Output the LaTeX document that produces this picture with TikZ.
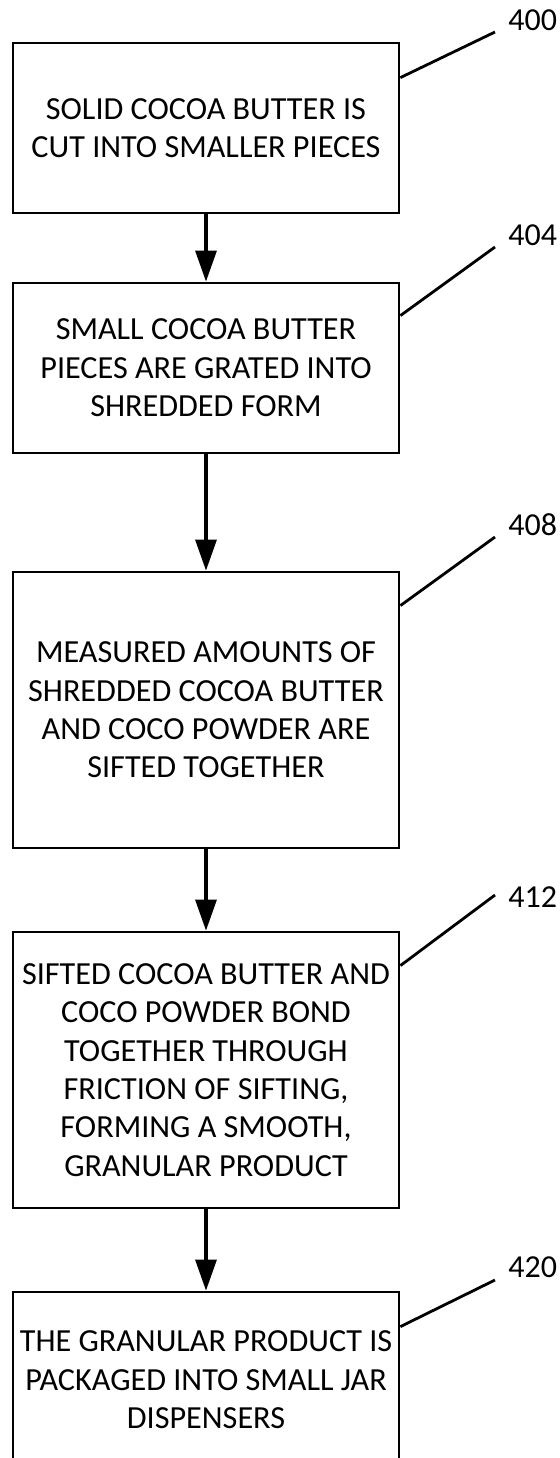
\documentclass[tikz,border=0pt]{standalone}
\usepackage{fontspec}
\setmainfont{Carlito}
\usetikzlibrary{arrows.meta}

\begin{document}
\begin{tikzpicture}[x=0.5pt,y=-0.5pt,>=Triangle,
  stepbox/.style={rectangle,draw=black,line width=1.4pt,minimum width=193pt,inner sep=0pt,align=center,font=\fontsize{16.1pt}{19.2pt}\selectfont},
  refnum/.style={anchor=base west,inner sep=0pt,font=\fontsize{16pt}{19pt}\selectfont},
  leader/.style={draw=black,line width=1.4pt},
  flow/.style={-{Triangle[length=15.5pt,width=10.5pt]},draw=black,line width=1.6pt}]
\path[use as bounding box,clip] (0,0) rectangle (559,1458);
% process steps
\node[stepbox,minimum height=85pt] (b400) at (206,128) {SOLID COCOA BUTTER IS\\CUT INTO SMALLER PIECES};
\node[stepbox,minimum height=85pt] (b404) at (206,368) {SMALL COCOA BUTTER\\PIECES ARE GRATED INTO\\SHREDDED FORM};
\node[stepbox,minimum height=138pt] (b408) at (206,710) {MEASURED AMOUNTS OF\\SHREDDED COCOA BUTTER\\AND COCO POWDER ARE\\SIFTED TOGETHER};
\node[stepbox,minimum height=138pt] (b412) at (206,1070) {SIFTED COCOA BUTTER AND\\COCO POWDER BOND\\TOGETHER THROUGH\\FRICTION OF SIFTING,\\FORMING A SMOOTH,\\GRANULAR PRODUCT};
\node[stepbox,minimum height=88pt] (b420) at (206,1380) {THE GRANULAR PRODUCT IS\\PACKAGED INTO SMALL JAR\\DISPENSERS};
% reference numerals
\coordinate (c400) at (495,32);
\coordinate (c404) at (495,247);
\coordinate (c408) at (495,537);
\coordinate (c412) at (495,895);
\coordinate (c420) at (495,1280);
\node[refnum] (n400) at (508,30) {400};
\node[refnum] (n404) at (508,245) {404};
\node[refnum] (n408) at (508,535) {408};
\node[refnum] (n412) at (508,907) {412};
\node[refnum] (n420) at (508,1277) {420};
\draw[leader] ([yshift=-18pt]b400.north east) -- (c400);
\draw[leader] ([yshift=-17pt]b404.north east) -- (c404);
\draw[leader] ([yshift=-17.5pt]b408.north east) -- (c408);
\draw[leader] ([yshift=-17.5pt]b412.north east) -- (c412);
\draw[leader] ([yshift=-18pt]b420.north east) -- (c420);
% flow arrows
\draw[flow] (b400) -- (b404);
\draw[flow] (b404) -- (b408);
\draw[flow] (b408) -- (b412);
\draw[flow] (b412) -- (b420);
\end{tikzpicture}
\end{document}
